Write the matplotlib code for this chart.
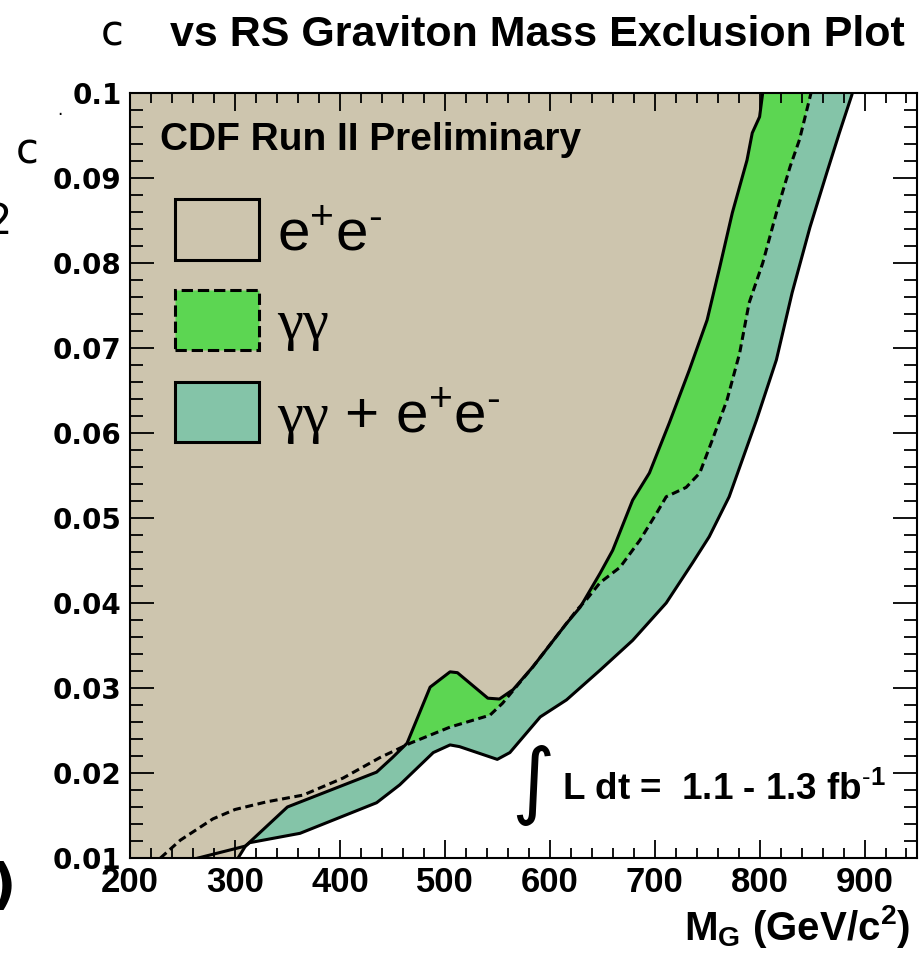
import numpy as np
import matplotlib
matplotlib.use("Agg")
import matplotlib.pyplot as plt
from matplotlib.patches import Patch
from matplotlib.ticker import MultipleLocator

plt.rcParams["font.family"] = "Liberation Sans"
plt.rcParams["mathtext.fontset"] = "custom"
plt.rcParams["mathtext.rm"] = "Liberation Sans"
plt.rcParams["mathtext.it"] = "Liberation Serif"
plt.rcParams["mathtext.default"] = "regular"

# 95% CL exclusion contours, coupling k/MPl vs graviton mass (GeV/c^2)
mass_ee = [303, 310, 350, 435, 450, 464, 486, 505, 512, 541, 552, 565, 584, 616,
           629, 648, 660, 679, 695, 714, 733, 750, 762, 774, 788, 793, 800, 804]
lim_ee = [0.0100, 0.0114, 0.0160, 0.0201, 0.0218, 0.0235, 0.0301, 0.0319, 0.0318,
          0.0288, 0.0287, 0.0298, 0.0325, 0.0376, 0.0395, 0.0435, 0.0462, 0.0521,
          0.0553, 0.0612, 0.0674, 0.0733, 0.0795, 0.0859, 0.0921, 0.0953, 0.0972, 0.1010]

mass_gg = [229, 248, 279, 300, 330, 365, 403, 438, 450, 467, 505, 543, 555, 584, 626,
           635, 648, 667, 686, 702, 711, 730, 743, 755, 769, 781, 790, 803, 816, 829,
           838, 845, 850]
lim_gg = [0.0100, 0.0121, 0.0146, 0.0157, 0.0166, 0.0174, 0.0194, 0.0218, 0.0225,
          0.0235, 0.0254, 0.0268, 0.0282, 0.0325, 0.0392, 0.0404, 0.0424, 0.0442,
          0.0474, 0.0506, 0.0525, 0.0536, 0.0553, 0.0592, 0.0639, 0.0694, 0.0753,
          0.0800, 0.0859, 0.0913, 0.0945, 0.0980, 0.1005]

mass_comb = [265, 310, 314, 362, 435, 457, 489, 505, 514, 550, 562, 591, 616, 648,
             679, 711, 736, 752, 771, 797, 816, 831, 848, 864, 876, 888, 890]
lim_comb = [0.0100, 0.0114, 0.0118, 0.0129, 0.0165, 0.0186, 0.0224, 0.0233, 0.0231,
            0.0216, 0.0224, 0.0266, 0.0286, 0.0321, 0.0356, 0.0400, 0.0447, 0.0478,
            0.0525, 0.0615, 0.0686, 0.0765, 0.0842, 0.0906, 0.0953, 0.0998, 0.1010]

ytick_vals = [0.01, 0.02, 0.03, 0.04, 0.05, 0.06, 0.07, 0.08, 0.09, 0.1]
ytick_labels = ["0.01", "0.02", "0.03", "0.04", "0.05", "0.06", "0.07", "0.08", "0.09", "0.1"]
labels = [r"e$^{+}$e$^{\text{-}}$", r"$\mathit{\gamma\gamma}$",
          r"$\mathit{\gamma\gamma}$ + e$^{+}$e$^{\text{-}}$"]

tan = "#cdc5ae"
green = "#5cd652"
teal = "#84c4a8"

fig = plt.figure(figsize=(9.19, 9.55), dpi=100)
ax = fig.add_axes([0.1415, 0.1016, 0.8563, 0.801])
ax.set_xlim(200, 950)
ax.set_ylim(0.01, 0.1)


def excluded(m, k, color):
    # everything above/left of the contour is excluded
    x0 = ax.get_xlim()[0]
    y0, y1 = ax.get_ylim()
    xs = np.r_[x0, m, m[-1], x0]
    ys = np.r_[y0, k, y1 + 0.01, y1 + 0.01]
    ax.fill(xs, ys, color=color, lw=0)


excluded(mass_comb, lim_comb, teal)
excluded(mass_gg, lim_gg, green)
excluded(mass_ee, lim_ee, tan)

ax.plot(mass_comb, lim_comb, color="k", lw=2.2)
ax.plot(mass_gg, lim_gg, color="k", lw=2.2, linestyle=(0, (2.6, 1.5)))
ax.plot(mass_ee, lim_ee, color="k", lw=2.2)

# ROOT style ticks
ax.xaxis.set_major_locator(MultipleLocator(100))
ax.xaxis.set_minor_locator(MultipleLocator(20))
ax.set_yticks(ytick_vals)
ax.set_yticklabels(ytick_labels, family="DejaVu Sans", weight="bold", fontsize=20)
ax.yaxis.set_minor_locator(MultipleLocator(0.002))
ax.tick_params(which="both", direction="in", top=True, right=True, width=1.3)
ax.tick_params(axis="x", which="major", length=13, labelsize=25, pad=6)
ax.tick_params(axis="x", which="minor", length=7)
ax.tick_params(axis="y", which="major", length=17, pad=6)
ax.tick_params(axis="y", which="minor", length=9.5)
for lbl in ax.get_xticklabels():
    lbl.set_fontweight("bold")
for s in ax.spines.values():
    s.set_linewidth(1.5)

ax.set_xlabel(r"M$_{G}$ (GeV/c$^{2}$)", fontsize=29, weight="bold", loc="right")
ax.xaxis.set_label_coords(0.991, -0.059)

handles = [Patch(facecolor=tan, edgecolor="k", lw=2.2),
           Patch(facecolor=green, edgecolor="k", lw=2.2, linestyle="--"),
           Patch(facecolor=teal, edgecolor="k", lw=2.2)]
ax.legend(handles, labels, loc="upper left", bbox_to_anchor=(0.0572, 0.861),
          frameon=False, fontsize=42, handlelength=1.44, handleheight=1.21,
          handletextpad=0.3, labelspacing=0.49, borderpad=0, borderaxespad=0)

ax.text(0.038, 0.9255, "CDF Run II Preliminary", transform=ax.transAxes,
        fontsize=28, weight="bold", va="baseline")
ax.text(0.512, 0.095, "\u222b", transform=ax.transAxes, fontsize=60,
        ha="center", va="center", family="DejaVu Sans")
ax.text(0.549, 0.0758, r"L dt =  1.1 - 1.3 fb$^{\text{-}1}$", transform=ax.transAxes,
        fontsize=26.5, weight="bold", va="baseline")

fig.text(0.985, 0.963, "vs RS Graviton Mass Exclusion Plot", ha="right",
         va="center", fontsize=31, weight="bold")
fig.text(112 / 919, 1 - 45 / 955, "c", ha="center", va="baseline",
         fontsize=30, family="DejaVu Sans")
fig.text(27 / 919, 1 - 163 / 955, "c", ha="center", va="baseline",
         fontsize=30, family="DejaVu Sans")
fig.text(60 / 919, 1 - 115 / 955, ".", ha="center", va="baseline",
         fontsize=12, family="DejaVu Sans")
fig.text(12 / 919, 1 - 222 / 955, "2", ha="right", va="center",
         fontsize=30, family="DejaVu Sans")
fig.text(16 / 919, 1 - 888 / 955, ")", ha="right", va="center",
         fontsize=40, family="DejaVu Sans", weight="bold")

fig.savefig("out.png", dpi=100)
